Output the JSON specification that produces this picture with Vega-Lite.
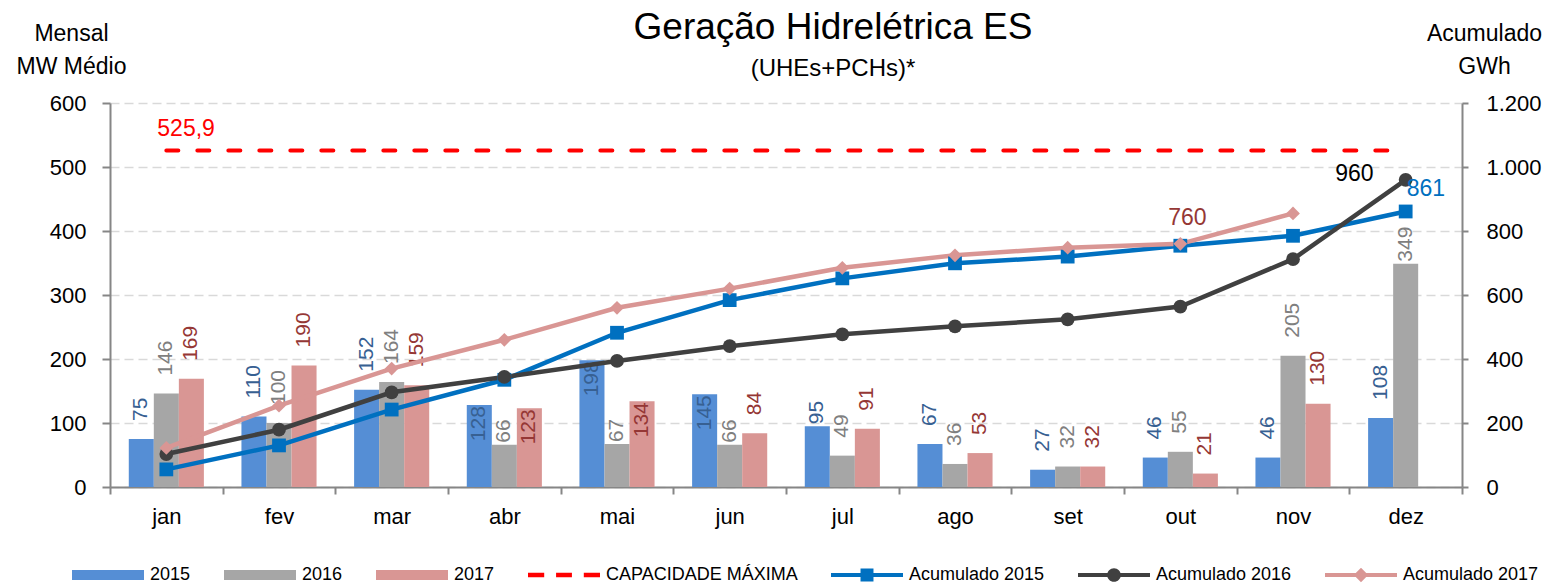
{
  "$schema": "https://vega.github.io/schema/vega-lite/v6.json",
  "width": 1352,
  "height": 384,
  "autosize": {"type": "none"},
  "padding": {"left": 110, "top": 103, "right": 88, "bottom": 98},
  "background": "white",
  "title": {
    "text": "Geração Hidrelétrica ES",
    "subtitle": "(UHEs+PCHs)*",
    "anchor": "middle",
    "frame": "group",
    "dx": 47,
    "dy": 70,
    "fontSize": 37,
    "fontWeight": "normal",
    "color": "#000000",
    "subtitleFontSize": 24,
    "subtitleColor": "#000000",
    "subtitlePadding": 10,
    "offset": 10
  },
  "datasets": {
    "mensal": [
      {"mes": "jan", "serie": "2015", "valor": 75}, {"mes": "jan", "serie": "2016", "valor": 146}, {"mes": "jan", "serie": "2017", "valor": 169},
      {"mes": "fev", "serie": "2015", "valor": 110}, {"mes": "fev", "serie": "2016", "valor": 100}, {"mes": "fev", "serie": "2017", "valor": 190},
      {"mes": "mar", "serie": "2015", "valor": 152}, {"mes": "mar", "serie": "2016", "valor": 164}, {"mes": "mar", "serie": "2017", "valor": 159},
      {"mes": "abr", "serie": "2015", "valor": 128}, {"mes": "abr", "serie": "2016", "valor": 66}, {"mes": "abr", "serie": "2017", "valor": 123},
      {"mes": "mai", "serie": "2015", "valor": 198}, {"mes": "mai", "serie": "2016", "valor": 67}, {"mes": "mai", "serie": "2017", "valor": 134},
      {"mes": "jun", "serie": "2015", "valor": 145}, {"mes": "jun", "serie": "2016", "valor": 66}, {"mes": "jun", "serie": "2017", "valor": 84},
      {"mes": "jul", "serie": "2015", "valor": 95}, {"mes": "jul", "serie": "2016", "valor": 49}, {"mes": "jul", "serie": "2017", "valor": 91},
      {"mes": "ago", "serie": "2015", "valor": 67}, {"mes": "ago", "serie": "2016", "valor": 36}, {"mes": "ago", "serie": "2017", "valor": 53},
      {"mes": "set", "serie": "2015", "valor": 27}, {"mes": "set", "serie": "2016", "valor": 32}, {"mes": "set", "serie": "2017", "valor": 32},
      {"mes": "out", "serie": "2015", "valor": 46}, {"mes": "out", "serie": "2016", "valor": 55}, {"mes": "out", "serie": "2017", "valor": 21},
      {"mes": "nov", "serie": "2015", "valor": 46}, {"mes": "nov", "serie": "2016", "valor": 205}, {"mes": "nov", "serie": "2017", "valor": 130},
      {"mes": "dez", "serie": "2015", "valor": 108}, {"mes": "dez", "serie": "2016", "valor": 349}
    ],
    "capacidade": [
      {"mes": "jan", "serie": "CAPACIDADE MÁXIMA", "valor": 525.9}, {"mes": "fev", "serie": "CAPACIDADE MÁXIMA", "valor": 525.9},
      {"mes": "mar", "serie": "CAPACIDADE MÁXIMA", "valor": 525.9}, {"mes": "abr", "serie": "CAPACIDADE MÁXIMA", "valor": 525.9},
      {"mes": "mai", "serie": "CAPACIDADE MÁXIMA", "valor": 525.9}, {"mes": "jun", "serie": "CAPACIDADE MÁXIMA", "valor": 525.9},
      {"mes": "jul", "serie": "CAPACIDADE MÁXIMA", "valor": 525.9}, {"mes": "ago", "serie": "CAPACIDADE MÁXIMA", "valor": 525.9},
      {"mes": "set", "serie": "CAPACIDADE MÁXIMA", "valor": 525.9}, {"mes": "out", "serie": "CAPACIDADE MÁXIMA", "valor": 525.9},
      {"mes": "nov", "serie": "CAPACIDADE MÁXIMA", "valor": 525.9}, {"mes": "dez", "serie": "CAPACIDADE MÁXIMA", "valor": 525.9}
    ],
    "acumulado": [
      {"mes": "jan", "serie": "Acumulado 2015", "acum": 55}, {"mes": "fev", "serie": "Acumulado 2015", "acum": 130},
      {"mes": "mar", "serie": "Acumulado 2015", "acum": 242}, {"mes": "abr", "serie": "Acumulado 2015", "acum": 335},
      {"mes": "mai", "serie": "Acumulado 2015", "acum": 482}, {"mes": "jun", "serie": "Acumulado 2015", "acum": 584},
      {"mes": "jul", "serie": "Acumulado 2015", "acum": 652}, {"mes": "ago", "serie": "Acumulado 2015", "acum": 699},
      {"mes": "set", "serie": "Acumulado 2015", "acum": 720}, {"mes": "out", "serie": "Acumulado 2015", "acum": 754},
      {"mes": "nov", "serie": "Acumulado 2015", "acum": 785}, {"mes": "dez", "serie": "Acumulado 2015", "acum": 861},
      {"mes": "jan", "serie": "Acumulado 2016", "acum": 103}, {"mes": "fev", "serie": "Acumulado 2016", "acum": 179},
      {"mes": "mar", "serie": "Acumulado 2016", "acum": 296}, {"mes": "abr", "serie": "Acumulado 2016", "acum": 344},
      {"mes": "mai", "serie": "Acumulado 2016", "acum": 394}, {"mes": "jun", "serie": "Acumulado 2016", "acum": 440},
      {"mes": "jul", "serie": "Acumulado 2016", "acum": 477}, {"mes": "ago", "serie": "Acumulado 2016", "acum": 502},
      {"mes": "set", "serie": "Acumulado 2016", "acum": 524}, {"mes": "out", "serie": "Acumulado 2016", "acum": 564},
      {"mes": "nov", "serie": "Acumulado 2016", "acum": 712}, {"mes": "dez", "serie": "Acumulado 2016", "acum": 960},
      {"mes": "jan", "serie": "Acumulado 2017", "acum": 122}, {"mes": "fev", "serie": "Acumulado 2017", "acum": 254},
      {"mes": "mar", "serie": "Acumulado 2017", "acum": 370}, {"mes": "abr", "serie": "Acumulado 2017", "acum": 460},
      {"mes": "mai", "serie": "Acumulado 2017", "acum": 560}, {"mes": "jun", "serie": "Acumulado 2017", "acum": 620},
      {"mes": "jul", "serie": "Acumulado 2017", "acum": 685}, {"mes": "ago", "serie": "Acumulado 2017", "acum": 724},
      {"mes": "set", "serie": "Acumulado 2017", "acum": 748}, {"mes": "out", "serie": "Acumulado 2017", "acum": 760},
      {"mes": "nov", "serie": "Acumulado 2017", "acum": 855}
    ]
  },
  "layer": [
    {
      "layer": [
        {
          "data": {"name": "mensal"},
          "mark": {"type": "bar"},
          "encoding": {
            "x": {"field": "mes", "type": "nominal", "sort": ["jan","fev","mar","abr","mai","jun","jul","ago","set","out","nov","dez"], "title": null, "scale": {"paddingInner": 0, "paddingOuter": 0}},
            "xOffset": {"field": "serie", "type": "nominal", "sort": ["2015","2016","2017"], "scale": {"paddingInner": 0, "paddingOuter": 0.75}},
            "y": {"field": "valor", "type": "quantitative", "scale": {"domain": [0, 600], "nice": false},
              "axis": {"orient": "left", "values": [0,100,200,300,400,500,600], "format": "d", "grid": true, "title": ["Mensal", "MW Médio"], "titleAngle": 0, "titleAlign": "center", "titleBaseline": "alphabetic", "titleX": -39, "titleY": -63, "titleLineHeight": 33, "tickSize": 8, "labelPadding": 16}},
            "color": {"field": "serie", "type": "nominal",
              "scale": {"domain": ["2015","2016","2017","CAPACIDADE MÁXIMA","Acumulado 2015","Acumulado 2016","Acumulado 2017"], "range": ["#558ED5","#A6A6A6","#D99694","#FF0000","#0070C0","#404040","#D99694"]},
              "legend": {
                "title": null, "orient": "none", "legendX": -38, "legendY": 436, "direction": "horizontal", "columns": 7, "columnPadding": 33,
                "labelOffset": 6, "labelFontSize": 18, "labelColor": "#000000", "labelLimit": 0, "symbolSize": 5184, "padding": 0,
                "encode": {
                  "symbols": {
                    "update": {
                      "shape": {"signal": "(datum.value == '2015' || datum.value == '2016' || datum.value == '2017') ? 'M-1,-0.14H1V0.14H-1Z' : datum.value == 'CAPACIDADE MÁXIMA' ? 'M-1,-0.06H-0.55V0.06H-1Z M-0.22,-0.06H0.22V0.06H-0.22Z M0.55,-0.06H1V0.06H0.55Z' : datum.value == 'Acumulado 2015' ? 'M-1,-0.055H1V0.055H-1Z M-0.18,-0.18H0.18V0.18H-0.18Z' : datum.value == 'Acumulado 2016' ? 'M-1,-0.055H1V0.055H-1Z M-0.19,0A0.19,0.19 0 1,1 0.19,0A0.19,0.19 0 1,1 -0.19,0Z' : 'M-1,-0.055H1V0.055H-1Z M-0.2,0L0,-0.2L0.2,0L0,0.2Z'"},
                      "fill": {"scale": "color", "field": "value"},
                      "stroke": {"value": "transparent"},
                      "strokeWidth": {"value": 0},
                      "opacity": {"value": 1}
                    }
                  }
                }
              }
            }
          }
        },
        {
          "data": {"name": "mensal"},
          "transform": [{"filter": "!((datum.serie == '2015' && (datum.mes == 'abr' || datum.mes == 'mai' || datum.mes == 'jun' || datum.mes == 'jul')) || (datum.serie == '2017' && (datum.mes == 'abr' || datum.mes == 'mai')) || (datum.serie == '2016' && (datum.mes == 'abr' || datum.mes == 'mai' || datum.mes == 'jun' || datum.mes == 'dez')))"}],
          "mark": {"type": "text", "angle": 270, "align": "left", "baseline": "middle", "dx": 18, "fontSize": 21},
          "encoding": {
            "x": {"field": "mes", "type": "nominal", "sort": ["jan","fev","mar","abr","mai","jun","jul","ago","set","out","nov","dez"], "title": null},
            "xOffset": {"field": "serie", "type": "nominal", "sort": ["2015","2016","2017"]},
            "y": {"field": "valor", "type": "quantitative"},
            "text": {"field": "valor", "type": "quantitative", "format": "d"},
            "fill": {"field": "serie", "type": "nominal", "scale": {"domain": ["2015","2016","2017"], "range": ["#376092","#7F7F7F","#953735"]}, "legend": null}
          }
        },
        {
          "data": {"name": "mensal"},
          "transform": [{"filter": "(datum.serie == '2016' && (datum.mes == 'abr' || datum.mes == 'mai' || datum.mes == 'jun' || datum.mes == 'dez')) || (datum.serie == '2015' && datum.mes == 'jul')"}],
          "mark": {"type": "text", "angle": 270, "align": "left", "baseline": "middle", "dx": 2, "fontSize": 21},
          "encoding": {
            "x": {"field": "mes", "type": "nominal", "sort": ["jan","fev","mar","abr","mai","jun","jul","ago","set","out","nov","dez"], "title": null},
            "xOffset": {"field": "serie", "type": "nominal", "sort": ["2015","2016","2017"]},
            "y": {"field": "valor", "type": "quantitative"},
            "text": {"field": "valor", "type": "quantitative", "format": "d"},
            "fill": {"field": "serie", "type": "nominal", "scale": {"domain": ["2015","2016","2017"], "range": ["#376092","#7F7F7F","#953735"]}, "legend": null}
          }
        },
        {
          "data": {"name": "mensal"},
          "transform": [{"filter": "(datum.serie == '2015' && (datum.mes == 'abr' || datum.mes == 'mai' || datum.mes == 'jun')) || (datum.serie == '2017' && (datum.mes == 'abr' || datum.mes == 'mai'))"}],
          "mark": {"type": "text", "angle": 270, "align": "right", "baseline": "middle", "dx": -1, "fontSize": 21},
          "encoding": {
            "x": {"field": "mes", "type": "nominal", "sort": ["jan","fev","mar","abr","mai","jun","jul","ago","set","out","nov","dez"], "title": null},
            "xOffset": {"field": "serie", "type": "nominal", "sort": ["2015","2016","2017"]},
            "y": {"field": "valor", "type": "quantitative"},
            "text": {"field": "valor", "type": "quantitative", "format": "d"},
            "fill": {"field": "serie", "type": "nominal", "scale": {"domain": ["2015","2016","2017"], "range": ["#376092","#7F7F7F","#953735"]}, "legend": null}
          }
        },
        {
          "data": {"name": "capacidade"},
          "mark": {"type": "line", "strokeWidth": 4, "strokeDash": [12, 19], "strokeCap": "round"},
          "encoding": {
            "x": {"field": "mes", "type": "nominal", "sort": ["jan","fev","mar","abr","mai","jun","jul","ago","set","out","nov","dez"], "title": null},
            "y": {"field": "valor", "type": "quantitative"},
            "color": {"field": "serie", "type": "nominal", "scale": {"domain": ["2015","2016","2017","CAPACIDADE MÁXIMA","Acumulado 2015","Acumulado 2016","Acumulado 2017"], "range": ["#558ED5","#A6A6A6","#D99694","#FF0000","#0070C0","#404040","#D99694"]}}
          }
        },
        {
          "data": {"name": "capacidade"},
          "transform": [{"filter": "datum.mes == 'jan'"}],
          "mark": {"type": "text", "align": "left", "baseline": "alphabetic", "dx": -9, "dy": -14, "fontSize": 23, "color": "#FF0000"},
          "encoding": {
            "x": {"field": "mes", "type": "nominal", "sort": ["jan","fev","mar","abr","mai","jun","jul","ago","set","out","nov","dez"], "title": null},
            "y": {"field": "valor", "type": "quantitative"},
            "text": {"field": "valor", "type": "quantitative", "format": ".1f"}
          }
        }
      ]
    },
    {
      "data": {"name": "acumulado"},
      "layer": [
        {
          "mark": {"type": "line", "strokeWidth": 4.5},
          "encoding": {
            "x": {"field": "mes", "type": "nominal", "sort": ["jan","fev","mar","abr","mai","jun","jul","ago","set","out","nov","dez"], "title": null},
            "y": {"field": "acum", "type": "quantitative", "scale": {"domain": [0, 1200], "nice": false},
              "axis": {"orient": "right", "values": [0,200,400,600,800,1000,1200], "format": ",d", "grid": false, "title": ["Acumulado", "GWh"], "titleAngle": 0, "titleAlign": "center", "titleBaseline": "alphabetic", "titleX": 22, "titleY": -63, "titleLineHeight": 33, "tickSize": 6, "labelPadding": 18}},
            "color": {"field": "serie", "type": "nominal", "scale": {"domain": ["2015","2016","2017","CAPACIDADE MÁXIMA","Acumulado 2015","Acumulado 2016","Acumulado 2017"], "range": ["#558ED5","#A6A6A6","#D99694","#FF0000","#0070C0","#404040","#D99694"]}}
          }
        },
        {
          "mark": {"type": "point", "filled": true, "size": 190, "opacity": 1},
          "encoding": {
            "x": {"field": "mes", "type": "nominal", "sort": ["jan","fev","mar","abr","mai","jun","jul","ago","set","out","nov","dez"], "title": null},
            "y": {"field": "acum", "type": "quantitative"},
            "color": {"field": "serie", "type": "nominal", "scale": {"domain": ["2015","2016","2017","CAPACIDADE MÁXIMA","Acumulado 2015","Acumulado 2016","Acumulado 2017"], "range": ["#558ED5","#A6A6A6","#D99694","#FF0000","#0070C0","#404040","#D99694"]}},
            "shape": {"field": "serie", "type": "nominal", "scale": {"domain": ["Acumulado 2015","Acumulado 2016","Acumulado 2017"], "range": ["square","circle","diamond"]}, "legend": null}
          }
        },
        {
          "transform": [{"filter": "datum.serie == 'Acumulado 2016' && datum.mes == 'dez'"}],
          "mark": {"type": "text", "align": "right", "baseline": "middle", "dx": -32, "dy": -6, "fontSize": 23, "color": "#000000"},
          "encoding": {
            "x": {"field": "mes", "type": "nominal", "sort": ["jan","fev","mar","abr","mai","jun","jul","ago","set","out","nov","dez"], "title": null},
            "y": {"field": "acum", "type": "quantitative"},
            "text": {"field": "acum", "type": "quantitative", "format": "d"}
          }
        },
        {
          "transform": [{"filter": "datum.serie == 'Acumulado 2015' && datum.mes == 'dez'"}],
          "mark": {"type": "text", "align": "left", "baseline": "alphabetic", "dx": 1, "dy": -15, "fontSize": 23, "color": "#0070C0"},
          "encoding": {
            "x": {"field": "mes", "type": "nominal", "sort": ["jan","fev","mar","abr","mai","jun","jul","ago","set","out","nov","dez"], "title": null},
            "y": {"field": "acum", "type": "quantitative"},
            "text": {"field": "acum", "type": "quantitative", "format": "d"}
          }
        },
        {
          "transform": [{"filter": "datum.serie == 'Acumulado 2017' && datum.mes == 'out'"}],
          "mark": {"type": "text", "align": "center", "baseline": "alphabetic", "dx": 7, "dy": -19, "fontSize": 23, "color": "#953735"},
          "encoding": {
            "x": {"field": "mes", "type": "nominal", "sort": ["jan","fev","mar","abr","mai","jun","jul","ago","set","out","nov","dez"], "title": null},
            "y": {"field": "acum", "type": "quantitative"},
            "text": {"field": "acum", "type": "quantitative", "format": "d"}
          }
        }
      ]
    }
  ],
  "resolve": {"scale": {"y": "independent"}},
  "config": {
    "font": "Liberation Sans",
    "view": {"stroke": null},
    "locale": {"number": {"decimal": ",", "thousands": ".", "grouping": [3], "currency": ["R$", ""]}},
    "axis": {
      "labelFontSize": 22, "labelColor": "#000000", "labelFont": "Liberation Sans",
      "domainColor": "#868686", "domainWidth": 2, "tickColor": "#868686", "tickWidth": 2,
      "titleFontSize": 23, "titleFontWeight": "normal", "titleColor": "#000000", "titleFont": "Liberation Sans",
      "gridColor": "#D9D9D9", "gridWidth": 1.5, "gridDash": [9, 5]
    },
    "axisX": {"tickBand": "extent", "tickSize": 7, "labelAngle": 0, "labelPadding": 12, "grid": false},
    "legend": {"labelFont": "Liberation Sans"},
    "text": {"font": "Liberation Sans"}
  }
}
